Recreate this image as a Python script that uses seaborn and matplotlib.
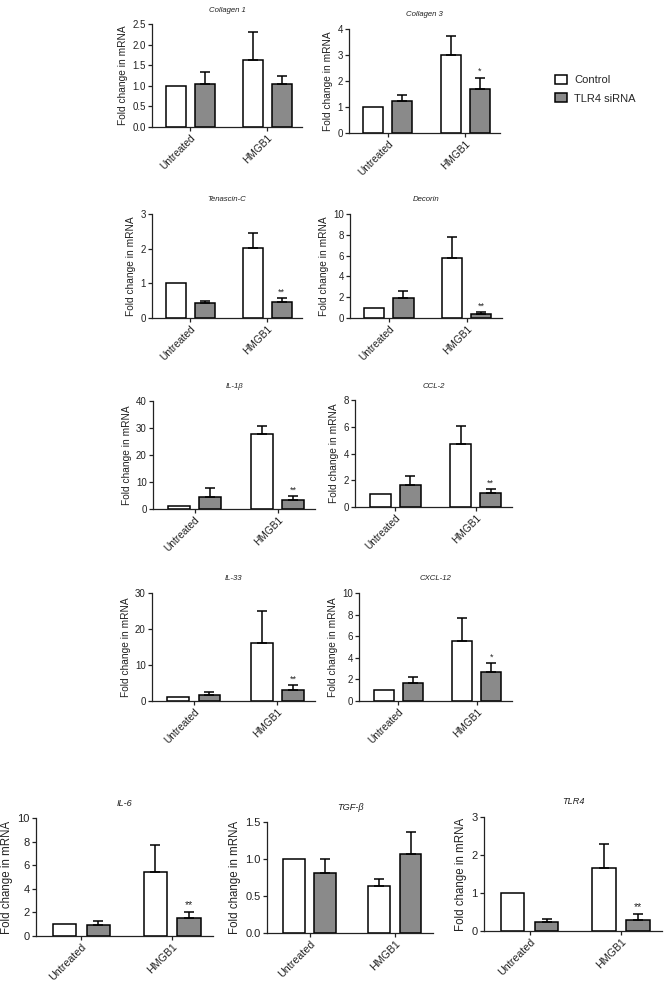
import numpy as np
import pandas as pd
import matplotlib
matplotlib.use("Agg")
import matplotlib.pyplot as plt
import seaborn as sns
from matplotlib.patches import Patch
from matplotlib.ticker import MultipleLocator, FormatStrFormatter

# ---------------- data ----------------
conditions = ["Untreated", "HMGB1"]
groups = ["Control", "TLR4 siRNA"]
titles = ["Collagen 1", "Collagen 3", "Tenascin-C", "Decorin", "IL-1β", "CCL-2",
          "IL-33", "CXCL-12", "IL-6", "TGF-β", "TLR4"]
control_mean = [[1.0, 1.63], [1.0, 3.01], [1.0, 2.01], [1.0, 5.77], [1.1, 27.9], [1.0, 4.7],
                [1.0, 16.2], [1.0, 5.6], [1.0, 5.45], [1.0, 0.63], [1.0, 1.66]]
control_sem = [[0, 0.68], [0, 0.73], [0, 0.44], [0, 2.05], [0, 2.9], [0, 1.35],
               [0, 8.8], [0, 2.12], [0, 2.29], [0, 0.10], [0, 0.63]]
sirna_mean = [[1.04, 1.04], [1.23, 1.69], [0.42, 0.46], [1.89, 0.35], [4.4, 3.3], [1.65, 1.05],
              [1.66, 2.95], [1.66, 2.7], [0.93, 1.55], [0.816, 1.065], [0.23, 0.28]]
sirna_sem = [[0.29, 0.21], [0.25, 0.44], [0.08, 0.12], [0.67, 0.19], [3.4, 1.5], [0.68, 0.3],
             [0.74, 1.55], [0.59, 0.8], [0.31, 0.5], [0.19, 0.30], [0.08, 0.17]]
sirna_stars = [["", ""], ["", "*"], ["", "**"], ["", "**"], ["", "**"], ["", "**"],
               ["", "**"], ["", "*"], ["", "**"], ["", ""], ["", "**"]]
y_max = [2.5, 4, 3, 10, 40, 8, 30, 10, 10, 1.5, 3]
y_step = [0.5, 1, 1, 2, 10, 2, 10, 2, 2, 0.5, 1]

# ---------------- layout (pixels: left, top, right, bottom) ----------------
W, H = 665, 982
rects = [(152, 24, 302, 127), (349, 29, 500, 133),
         (152, 214, 302, 318), (350, 214, 502, 318),
         (153, 401, 315, 509), (355, 400, 512, 507),
         (152, 593, 315, 701), (359, 593, 512, 701),
         (36, 818, 213, 936), (267, 822, 433, 933), (484, 817, 662, 931)]

sns.set_style("ticks")
plt.rcParams["font.family"] = ["Liberation Sans", "DejaVu Sans"]

pal = {"Control": "white", "TLR4 siRNA": "#8a8a8a"}
fig = plt.figure(figsize=(W / 100, H / 100), dpi=100)

for i, name in enumerate(titles):
    l, t, r, b = rects[i]
    big = i >= 8
    fs = 8.0 if big else 7
    xfs = 7.7 if big else 7.3
    ax = fig.add_axes([l / W, 1 - b / H, (r - l) / W, (b - t) / H])
    df = pd.DataFrame({
        "condition": conditions * 2,
        "group": [groups[0]] * 2 + [groups[1]] * 2,
        "value": control_mean[i] + sirna_mean[i],
    })
    sns.barplot(data=df, x="condition", y="value", hue="group", order=conditions,
                hue_order=groups, palette=pal, edgecolor="black", linewidth=1.1,
                width=0.745, gap=0.31, errorbar=None, legend=False, ax=ax)
    errs = [control_sem[i], sirna_sem[i]]
    stars = [["", ""], sirna_stars[i]]
    for cont, e, st in zip(ax.containers, errs, stars):
        for bar, ee, s in zip(cont, e, st):
            x = bar.get_x() + bar.get_width() / 2
            y = bar.get_height()
            if ee > 0:
                ax.errorbar(x, y, yerr=[[0], [ee]], fmt="none", ecolor="black",
                            elinewidth=1.1, capsize=3.6, capthick=1.1, zorder=1)
            if s:
                ax.annotate(s, (x, y + ee), xytext=(0, 1.0), textcoords="offset points",
                            ha="center", va="bottom", fontsize=fs - 0.5)
    ax.set_xlim(-0.5, 1.45)
    ax.set_ylim(0, y_max[i])
    ax.yaxis.set_major_locator(MultipleLocator(y_step[i]))
    if y_step[i] < 1:
        ax.yaxis.set_major_formatter(FormatStrFormatter("%.1f"))
    sns.despine(ax=ax)
    for sp in ["left", "bottom"]:
        ax.spines[sp].set_linewidth(0.9)
        ax.spines[sp].set_color("#222222")
    ax.tick_params(axis="both", length=3, width=0.9, labelsize=fs, pad=1.5, colors="#222222")
    ax.tick_params(axis="x", pad=1)
    ax.set_xticks(range(len(conditions)))
    ax.set_xticklabels(conditions, rotation=45, ha="right", rotation_mode="anchor",
                       fontsize=xfs)
    ax.set_xlabel("")
    ax.set_ylabel("Fold change in mRNA", fontsize=fs + 0.3, labelpad=3, color="#222222")
    ax.set_title(name, fontsize=fs - 1.4, style="italic", pad=9, color="#222222")

handles = [Patch(facecolor=pal[g], edgecolor="black", linewidth=1.1) for g in groups]
fig.legend(handles=handles, labels=groups, loc="upper left",
           bbox_to_anchor=(555 / W, 1 - 75 / H), frameon=False, fontsize=8,
           handlelength=1.1, handleheight=0.8, handletextpad=0.6, labelspacing=0.75,
           borderaxespad=0, borderpad=0)

fig.savefig("out.png", dpi=100)
